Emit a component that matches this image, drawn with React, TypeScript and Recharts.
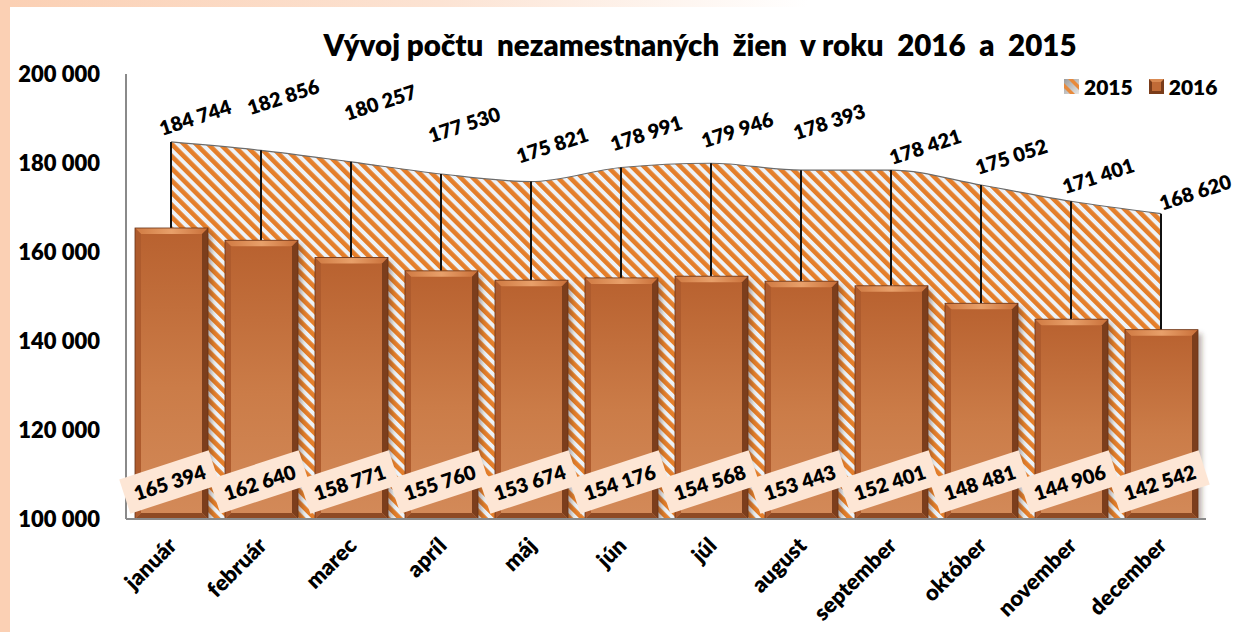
import React from 'react';
import { ComposedChart, Area, Bar, XAxis, YAxis, LabelList } from 'recharts';

const months = [
  'január', 'február', 'marec', 'apríl', 'máj', 'jún',
  'júl', 'august', 'september', 'október', 'november', 'december',
];
const women2015 = [184744, 182856, 180257, 177530, 175821, 178991, 179946, 178393, 178421, 175052, 171401, 168620];
const women2016 = [165394, 162640, 158771, 155760, 153674, 154176, 154568, 153443, 152401, 148481, 144906, 142542];
const yTicks = [100000, 120000, 140000, 160000, 180000, 200000];

// hand-placed nudges of the 2015 labels, like in the original sheet (px)
const label2015Dx = [24, 22, 29, 23, 21, 25, 26, 28, 34, 30, 27, 34];
const label2015Dy = [-25, -54, -60, -50, -37, -35, -34, -49, -24, -29, -26, -22];

const data = months.map((month, i) => ({ month, y2015: women2015[i], y2016: women2016[i] }));

const FONT = 'Lato, "Open Sans", sans-serif';
const WEIGHT = 800;
const fmt = (n: number) => String(n).replace(/\B(?=(\d{3})+(?!\d))/g, ' ');

function BevelBar(props: any) {
  const { x, y, width: w, height: h } = props;
  if (!h || h <= 0) return null;
  const b = 6;
  return (
    <g>
      <rect x={x + 4} y={y + 4} width={w} height={h - 2} fill="rgba(70,40,20,0.35)" filter="url(#barShadow)" />
      <rect x={x} y={y} width={w} height={h} fill="url(#barFace)" />
      <polygon points={`${x},${y} ${x + w},${y} ${x + w - b},${y + b} ${x + b},${y + b}`} fill="url(#barTop)" />
      <polygon points={`${x},${y} ${x + b},${y + b} ${x + b},${y + h - b} ${x},${y + h}`} fill="#AE5B2D" />
      <polygon points={`${x + w},${y} ${x + w},${y + h} ${x + w - b},${y + h - b} ${x + w - b},${y + b}`} fill="#7C3E1C" />
      <polygon points={`${x},${y + h} ${x + b},${y + h - b} ${x + w - b},${y + h - b} ${x + w},${y + h}`} fill="#8E4A24" />
      <rect x={x} y={y} width={w} height={h} fill="none" stroke="#6a3417" strokeWidth={0.8} />
    </g>
  );
}

function Label2015(props: any) {
  const vb = props.viewBox || {};
  const px = props.x ?? vb.x;
  const py = props.y ?? vb.y;
  const i = women2015.indexOf(Number(props.value));
  const cx = px + (label2015Dx[i] ?? 24);
  const cy = py + (label2015Dy[i] ?? -30);
  return (
    <text
      x={cx}
      y={cy}
      transform={`rotate(-18, ${cx}, ${cy})`}
      textAnchor="middle"
      dominantBaseline="central"
      fontFamily={FONT}
      fontWeight={WEIGHT}
      fontSize={20}
      fill="#000"
    >
      {fmt(Number(props.value))}
    </text>
  );
}

function Label2016(props: any) {
  const vb = props.viewBox || {};
  const bx = props.x ?? vb.x;
  const by = props.y ?? vb.y;
  const bw = props.width ?? vb.width;
  const bh = props.height ?? vb.height;
  const cx = bx + bw / 2 - 2;
  const cy = by + bh - 37;
  return (
    <g transform={`rotate(-18, ${cx}, ${cy})`}>
      <rect x={cx - 47} y={cy - 18} width={94} height={36} fill="#FDE6D5" />
      <text
        x={cx}
        y={cy}
        textAnchor="middle"
        dominantBaseline="central"
        fontFamily={FONT}
        fontWeight={WEIGHT}
        fontSize={20}
        fill="#000"
      >
        {fmt(Number(props.value))}
      </text>
    </g>
  );
}

function MonthTick(props: any) {
  const { x, y, payload } = props;
  const ax = x + 7;
  const ay = y + 28;
  return (
    <text
      x={ax}
      y={ay}
      transform={`rotate(-45, ${ax}, ${ay})`}
      textAnchor="end"
      fontFamily={FONT}
      fontWeight={WEIGHT}
      fontSize={22}
      fill="#000"
    >
      {payload.value}
    </text>
  );
}

function LegendIcon({ kind }: { kind: '2015' | '2016' }) {
  if (kind === '2015') {
    return (
      <svg width={15} height={15} style={{ marginRight: 5 }}>
        <defs>
          <linearGradient id="lg15" x1="0" y1="0" x2="1" y2="1">
            <stop offset="0%" stopColor="#9a9a9a" />
            <stop offset="100%" stopColor="#e8e8e8" />
          </linearGradient>
        </defs>
        <rect x={0} y={0} width={15} height={15} fill="url(#lg15)" />
        <polygon points="4,0 9,0 15,6 15,11" fill="#E88A3C" />
        <polygon points="0,4 0,9 6,15 11,15" fill="#E88A3C" />
      </svg>
    );
  }
  return (
    <svg width={15} height={15} style={{ marginRight: 5 }}>
      <rect x={0} y={0} width={15} height={15} fill="#7a3c1a" />
      <polygon points="0,0 15,0 12,3 3,3" fill="#D98A52" />
      <rect x={3} y={3} width={9} height={9} fill="#C06B37" />
    </svg>
  );
}

export default function App() {
  return (
    <div style={{ position: 'absolute', left: 0, top: 0, width: 1237, height: 632, background: '#FBD0B4', overflow: 'hidden' }}>
      <div
        style={{
          position: 'absolute', left: 10, top: 0, width: 1227, height: 7,
          background: 'linear-gradient(90deg, #FBD0B4 0%, #FCE3D3 35%, #FFFFFF 65%)',
        }}
      />
      <div style={{ position: 'absolute', left: 10, top: 7, width: 1227, height: 625, background: '#fff' }} />

      <div
        style={{
          position: 'absolute', left: 700, top: 27, transform: 'translateX(-50%)',
          fontFamily: FONT, fontWeight: WEIGHT, fontSize: 29.5, whiteSpace: 'pre', color: '#000',
        }}
      >
        {'Vývoj počtu  nezamestnaných  žien  v roku  2016  a  2015'}
      </div>

      <div
        style={{
          position: 'absolute', left: 1064, top: 74, display: 'flex', alignItems: 'center',
          fontFamily: FONT, fontWeight: WEIGHT, fontSize: 21, color: '#000',
        }}
      >
        <LegendIcon kind="2015" />
        <span style={{ marginRight: 16 }}>2015</span>
        <LegendIcon kind="2016" />
        <span>2016</span>
      </div>

      <div style={{ position: 'absolute', left: 0, top: 0 }}>
        <ComposedChart width={1237} height={632} data={data} margin={{ top: 74, right: 31, left: 0, bottom: 0 }}>
          <defs>
            <pattern id="hatch" patternUnits="userSpaceOnUse" width={8.6} height={8.6} patternTransform="rotate(-45)">
              <rect x={0} y={0} width={8.6} height={8.6} fill="#EEF3F8" />
              <rect x={0} y={0} width={4.6} height={8.6} fill="#E47E2A" />
            </pattern>
            <linearGradient id="barFace" x1="0" y1="0" x2="0" y2="1">
              <stop offset="0%" stopColor="#B8612F" />
              <stop offset="55%" stopColor="#CB7C48" />
              <stop offset="100%" stopColor="#D38A59" />
            </linearGradient>
            <linearGradient id="barTop" x1="0" y1="0" x2="1" y2="0">
              <stop offset="0%" stopColor="#D07A42" />
              <stop offset="50%" stopColor="#E8A06A" />
              <stop offset="100%" stopColor="#C96F38" />
            </linearGradient>
            <filter id="barShadow" x="-20%" y="-5%" width="140%" height="115%">
              <feGaussianBlur stdDeviation="2.5" />
            </filter>
          </defs>

          <XAxis
            dataKey="month"
            interval={0}
            height={113}
            axisLine={{ stroke: '#8a8a8a', strokeWidth: 2 }}
            tickLine={false}
            tickSize={0}
            tickMargin={0}
            tick={<MonthTick />}
          />
          <XAxis xAxisId="drop" dataKey="month" hide />
          <YAxis
            width={126}
            domain={[100000, 200000]}
            ticks={yTicks}
            allowDataOverflow
            axisLine={{ stroke: '#8a8a8a', strokeWidth: 2 }}
            tickLine={false}
            tickSize={0}
            tickMargin={26}
            tickFormatter={fmt}
            tick={{ fill: '#000', fontFamily: FONT, fontWeight: WEIGHT, fontSize: 22 }}
          />

          <Area
            type="monotone"
            dataKey="y2015"
            stroke="#6b6b6b"
            strokeWidth={1.2}
            fill="url(#hatch)"
            fillOpacity={1}
            dot={false}
            activeDot={false}
            isAnimationActive={false}
          >
            <LabelList dataKey="y2015" content={<Label2015 />} />
          </Area>
          <Bar xAxisId="drop" dataKey="y2015" barSize={2} fill="#111" isAnimationActive={false} />
          <Bar dataKey="y2016" barSize={73} shape={<BevelBar />} isAnimationActive={false}>
            <LabelList dataKey="y2016" content={<Label2016 />} />
          </Bar>
        </ComposedChart>
      </div>
    </div>
  );
}
